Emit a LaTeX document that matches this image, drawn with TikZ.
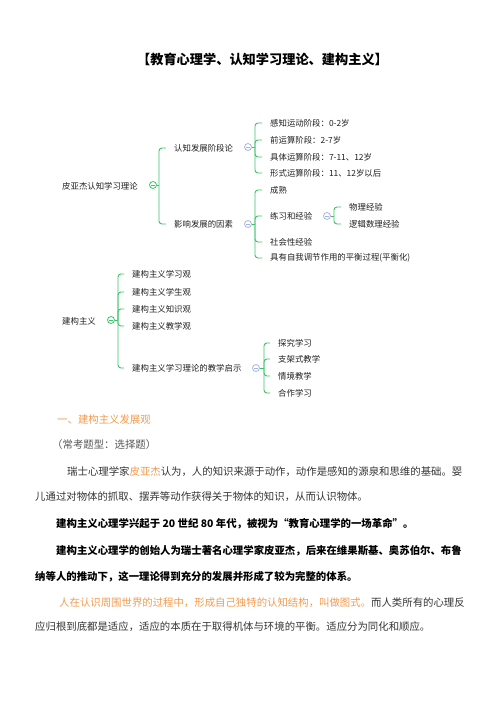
\documentclass[tikz,border=0pt]{standalone}
\usepackage{fontspec}
\setmainfont{Noto Sans CJK SC}
\definecolor{mmgreen}{HTML}{3CC36A}
\definecolor{mmblue}{HTML}{A8B4E0}
\definecolor{txtorange}{HTML}{F39A4E}
\definecolor{bodygray}{HTML}{333333}
\definecolor{notegray}{HTML}{555555}
\begin{document}
\begin{tikzpicture}[x=1pt,y=-1pt,
  mm/.style={font=\fontsize{8.4}{10}\selectfont, inner xsep=8pt, inner ysep=1pt, anchor=west, text=black!88},
  mmroot/.style={font=\fontsize{8.4}{10}\selectfont, inner sep=1pt, anchor=west, text=black!88},
  tog/.style={circle, draw=#1, line width=0.8pt, minimum size=7pt, inner sep=0pt, fill=white,
    path picture={\draw[#1, line width=0.6pt] ([xshift=1.8pt]path picture bounding box.west) -- ([xshift=-1.8pt]path picture bounding box.east);}},
  br/.style={draw=mmgreen, line width=0.9pt, rounded corners=3pt},
  body/.style={font=\fontsize{10.4}{12}\selectfont, anchor=west, inner sep=0pt, text=bodygray},
  bodyb/.style={body, font=\fontsize{10.4}{12}\selectfont\bfseries, text=black}
]
\useasboundingbox (0,0) rectangle (496,702);

% title
\node[font=\fontsize{13.2}{15}\selectfont\bfseries, inner sep=0pt] (title) at (262.5,59) {【教育心理学、认知学习理论、建构主义】};

% ---------- mind map 1 ----------
\node[mmroot] (r1) at (61,186) {皮亚杰认知学习理论};
\node[tog=mmgreen] (g1) at (153,185) {};
\coordinate (g1b) at (159,185);
\node[mm] (a1) at (166,148) {认知发展阶段论};
\node[mm] (a2) at (166,224) {影响发展的因素};
\node[tog=mmblue] (b1) at (248,147) {};
\node[tog=mmblue] (b2) at (248,224) {};

\node[mm] (s1) at (262,123) {感知运动阶段：0-2岁};
\node[mm] (s2) at (262,140) {前运算阶段：2-7岁};
\node[mm] (s3) at (262,157) {具体运算阶段：7-11、12岁};
\node[mm] (s4) at (262,173) {形式运算阶段：11、12岁以后};
\coordinate (b1b) at (255,147);

\node[mm] (f1) at (262,190) {成熟};
\node[mm] (f2) at (262,216) {练习和经验};
\node[mm] (f3) at (262,242) {社会性经验};
\node[mm] (f4) at (262,258) {具有自我调节作用的平衡过程(平衡化)};
\coordinate (b2b) at (255,224);
\node[tog=mmblue] (b3) at (327,216) {};
\coordinate (b3b) at (334,216);
\node[mm] (p1) at (341,207) {物理经验};
\node[mm] (p2) at (341,224) {逻辑数理经验};

\draw[br] (r1.east) ++(0,0) (g1.east) -- (g1b);
\foreach \k in {a1,a2} \draw[br] (g1b) |- (\k.west);
\draw[br] (b1.east) -- (b1b);
\foreach \k in {s1,s2,s3,s4} \draw[br] (b1b) |- (\k.west);
\draw[br] (b2.east) -- (b2b);
\foreach \k in {f1,f2,f3,f4} \draw[br] (b2b) |- (\k.west);
\draw[br] (b3.east) -- (b3b);
\foreach \k in {p1,p2} \draw[br] (b3b) |- (\k.west);

% ---------- mind map 2 ----------
\node[mmroot] (r2) at (61,321) {建构主义};
\node[tog=mmgreen] (g2) at (111,320) {};
\coordinate (g2b) at (118,320);
\node[mm] (c1) at (124,274) {建构主义学习观};
\node[mm] (c2) at (124,292) {建构主义学生观};
\node[mm] (c3) at (124,309) {建构主义知识观};
\node[mm] (c4) at (124,326) {建构主义教学观};
\node[mm] (c5) at (124,368) {建构主义学习理论的教学启示};
\node[tog=mmblue] (b4) at (256,368) {};
\coordinate (b4b) at (264,368);
\node[mm] (t1) at (270,343) {探究学习};
\node[mm] (t2) at (270,359) {支架式教学};
\node[mm] (t3) at (270,376) {情境教学};
\node[mm] (t4) at (270,393) {合作学习};

\draw[br] (g2.east) -- (g2b);
\foreach \k in {c1,c2,c3,c4,c5} \draw[br] (g2b) |- (\k.west);
\draw[br] (b4.east) -- (b4b);
\foreach \k in {t1,t2,t3,t4} \draw[br] (b4b) |- (\k.west);

% ---------- body text ----------
\node[body, text=txtorange] (h1) at (57,420) {一、建构主义发展观};
\node[body, text=notegray] (n1) at (52,445) {（常考题型：选择题）};
\node[body] (l1) at (67,472) {瑞士心理学家\textcolor{txtorange}{皮亚杰}认为，人的知识来源于动作，动作是感知的源泉和思维的基础。婴};
\node[body] (l2) at (35,497) {儿通过对物体的抓取、摆弄等动作获得关于物体的知识，从而认识物体。};
\node[bodyb] (l3) at (56,524) {建构主义心理学兴起于 20 世纪 80 年代，被视为“教育心理学的一场革命”。};
\node[bodyb] (l4) at (56,551) {建构主义心理学的创始人为瑞士著名心理学家皮亚杰，后来在维果斯基、奥苏伯尔、布鲁};
\node[bodyb] (l5) at (35,577) {纳等人的推动下，这一理论得到充分的发展并形成了较为完整的体系。};
\node[body] (l6) at (59,603) {\textcolor{txtorange}{人在认识周围世界的过程中，形成自己独特的认知结构，叫做图式。}而人类所有的心理反};
\node[body] (l7) at (35,627) {应归根到底都是适应，适应的本质在于取得机体与环境的平衡。适应分为同化和顺应。};
\end{tikzpicture}
\end{document}
